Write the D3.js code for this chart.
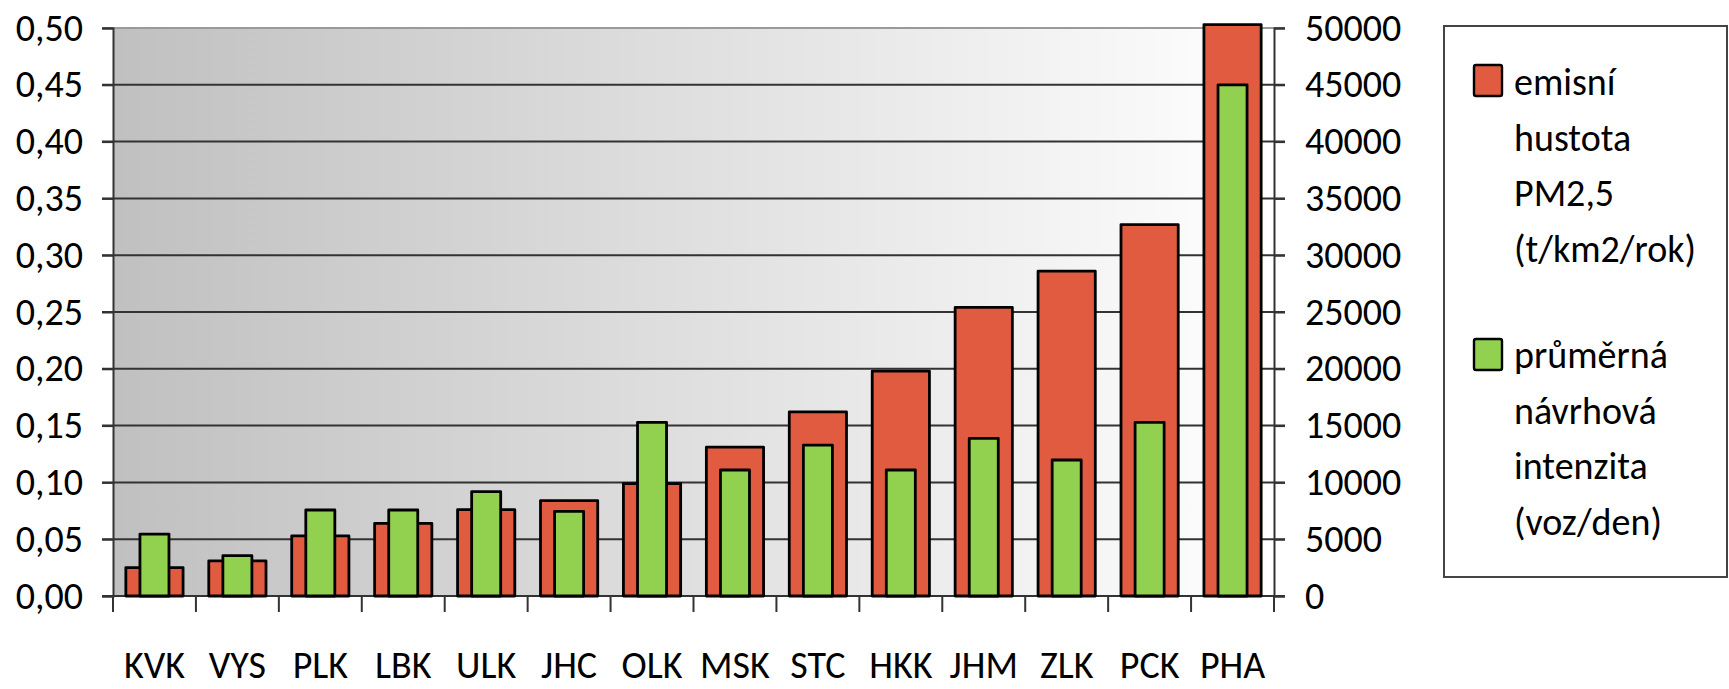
<!DOCTYPE html>
<html>
<head>
<meta charset="utf-8">
<script src="https://cdn.jsdelivr.net/npm/d3@7"></script>
<style>
  html, body { margin: 0; padding: 0; background: #ffffff; }
  svg { display: block; }
  text { font-family: Carlito, Lato, "Open Sans", sans-serif; fill: #000; }
</style>
</head>
<body>
<svg id="chart" width="1729" height="689"></svg>
<script>
// ---- data ----
const categories = ["KVK", "VYS", "PLK", "LBK", "ULK", "JHC", "OLK", "MSK", "STC", "HKK", "JHM", "ZLK", "PCK", "PHA"];
const emisniHustota = [0.025, 0.031, 0.053, 0.064, 0.076, 0.084, 0.099, 0.131, 0.162, 0.198, 0.254, 0.286, 0.327, 0.503];
const intenzita = [5450, 3550, 7570, 7570, 9180, 7450, 15290, 11090, 13290, 11090, 13880, 11970, 15290, 45000];
const leftTicks = [0, 0.05, 0.10, 0.15, 0.20, 0.25, 0.30, 0.35, 0.40, 0.45, 0.50];
const rightTicks = [0, 5000, 10000, 15000, 20000, 25000, 30000, 35000, 40000, 45000, 50000];
const legendRed = ["emisní", "hustota", "PM2,5", "(t/km2/rok)"];
const legendGreen = ["průměrná", "návrhová", "intenzita", "(voz/den)"];

// ---- layout ----
const L = 113, R = 1274, T = 28, B = 596;
const svg = d3.select("#chart");
const fontSize = 38;

const x = d3.scaleBand().domain(categories).range([L, R]).paddingInner(0).paddingOuter(0);
const yL = d3.scaleLinear().domain([0, 0.5]).range([B, T]);
const yR = d3.scaleLinear().domain([0, 50000]).range([B, T]);

// background gradient
const defs = svg.append("defs");
const grad = defs.append("linearGradient").attr("id", "bg").attr("x1", "0").attr("x2", "1").attr("y1", "0").attr("y2", "0");
grad.append("stop").attr("offset", "0").attr("stop-color", "#c0c0c0");
grad.append("stop").attr("offset", "1").attr("stop-color", "#ffffff");
svg.append("rect").attr("x", L).attr("y", T).attr("width", R - L).attr("height", B - T).attr("fill", "url(#bg)");

// gridlines (also serve as outside ticks on both sides)
svg.append("g").selectAll("line").data(leftTicks).join("line")
  .attr("x1", L - 11).attr("x2", R + 11)
  .attr("y1", d => yL(d)).attr("y2", d => yL(d))
  .attr("stroke", (d, i) => i === leftTicks.length - 1 ? "#9a9a9a" : "#333333")
  .attr("stroke-width", 2);

// left axis
const gL = svg.append("g").attr("transform", `translate(${L},0)`)
  .call(d3.axisLeft(yL).tickValues(leftTicks).tickSize(11).tickPadding(19)
    .tickFormat(d => d3.format(".2f")(d).replace(".", ",")));
gL.select(".domain").attr("stroke", "#333").attr("stroke-width", 2);
gL.selectAll(".tick line").attr("stroke", "#333").attr("stroke-width", 2);
gL.selectAll("text").style("font-size", fontSize + "px").attr("fill", "#000");

// right axis
const gR = svg.append("g").attr("transform", `translate(${R},0)`)
  .call(d3.axisRight(yR).tickValues(rightTicks).tickSize(11).tickPadding(20).tickFormat(d3.format("d")));
gR.select(".domain").attr("stroke", "#333").attr("stroke-width", 2);
gR.selectAll(".tick line").attr("stroke", "#333").attr("stroke-width", 2);
gR.selectAll("text").style("font-size", fontSize + "px").attr("fill", "#000");

// bottom axis line + category ticks at band boundaries
svg.append("line").attr("x1", L).attr("x2", R).attr("y1", B).attr("y2", B)
  .attr("stroke", "#333").attr("stroke-width", 2);
const boundaries = categories.map(c => x(c)).concat([x(categories[categories.length - 1]) + x.bandwidth()]);
svg.append("g").selectAll("line").data(boundaries).join("line")
  .attr("x1", d => d).attr("x2", d => d).attr("y1", B).attr("y2", B + 16)
  .attr("stroke", "#333").attr("stroke-width", 2);

// category labels
svg.append("g").selectAll("text").data(categories).join("text")
  .attr("x", d => x(d) + x.bandwidth() / 2).attr("y", 678)
  .attr("text-anchor", "middle").style("font-size", fontSize + "px").text(d => d);

// bars
const redW = x.bandwidth() * 0.69, greenW = x.bandwidth() * 0.35;
const red = "#e15b41", green = "#92d050";
svg.append("g").selectAll("rect").data(categories).join("rect")
  .attr("x", d => x(d) + (x.bandwidth() - redW) / 2)
  .attr("y", (d, i) => yL(emisniHustota[i]))
  .attr("width", redW)
  .attr("height", (d, i) => B - yL(emisniHustota[i]))
  .attr("fill", red).attr("stroke", "#000").attr("stroke-width", 2.8).attr("stroke-linejoin", "round");
svg.append("g").selectAll("rect").data(categories).join("rect")
  .attr("x", d => x(d) + (x.bandwidth() - greenW) / 2)
  .attr("y", (d, i) => yR(intenzita[i]))
  .attr("width", greenW)
  .attr("height", (d, i) => B - yR(intenzita[i]))
  .attr("fill", green).attr("stroke", "#000").attr("stroke-width", 2.8).attr("stroke-linejoin", "round");

// legend
svg.append("rect").attr("x", 1444).attr("y", 26).attr("width", 283).attr("height", 551)
  .attr("fill", "#fff").attr("stroke", "#444").attr("stroke-width", 2);
const legendItems = [
  { color: red, lines: legendRed, top: 65, base: 95 },
  { color: green, lines: legendGreen, top: 339, base: 368 }
];
legendItems.forEach(it => {
  svg.append("rect").attr("x", 1474).attr("y", it.top).attr("width", 28).attr("height", 31)
    .attr("rx", 2).attr("fill", it.color).attr("stroke", "#000").attr("stroke-width", 2.4);
  svg.append("g").selectAll("text").data(it.lines).join("text")
    .attr("x", 1514).attr("y", (d, i) => it.base + i * 55.5)
    .style("font-size", fontSize + "px").text(d => d);
});
</script>
</body>
</html>
